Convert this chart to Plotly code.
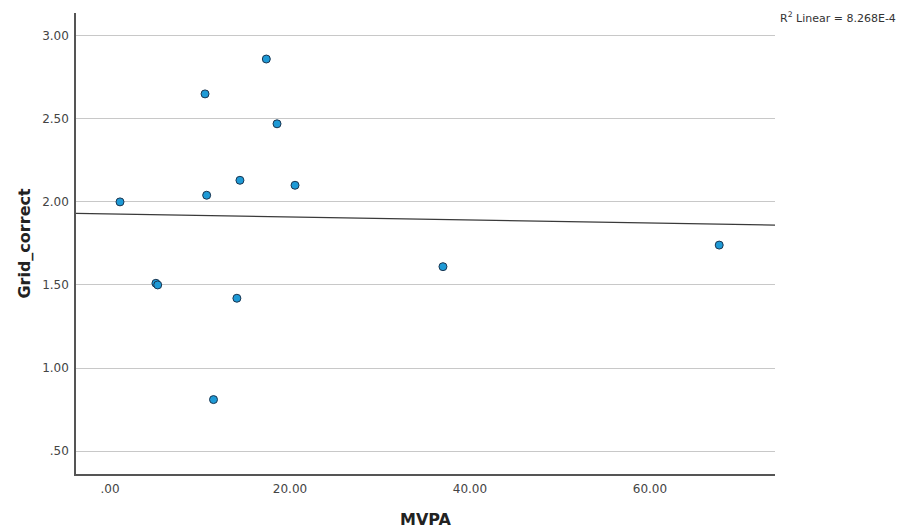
import numpy as np
import plotly.graph_objects as go

# Data
mvpa = [1.11, 5.10, 5.30, 10.56, 10.74, 11.50, 14.10, 14.44, 17.37, 18.56, 20.56, 37.00, 67.70]
grid_correct = [2.00, 1.51, 1.50, 2.65, 2.04, 0.81, 1.42, 2.13, 2.86, 2.47, 2.10, 1.61, 1.74]

x_tickvals = [0, 20, 40, 60]
x_ticktext = [".00", "20.00", "40.00", "60.00"]
y_tickvals = [0.5, 1.0, 1.5, 2.0, 2.5, 3.0]
y_ticktext = [".50", "1.00", "1.50", "2.00", "2.50", "3.00"]
r2_label = "R<sup>2</sup> Linear = 8.268E-4"

x_range = [-3.78, 73.9]
y_range = [0.362, 3.137]

# Linear fit line
slope, intercept = np.polyfit(mvpa, grid_correct, 1)
fit_x = np.array(x_range)
fit_y = intercept + slope * fit_x

fig = go.Figure()
fig.add_trace(go.Scatter(
    x=fit_x, y=fit_y, mode="lines",
    line=dict(color="#3a3a3a", width=1.2),
    hoverinfo="skip", showlegend=False,
))
fig.add_trace(go.Scatter(
    x=mvpa, y=grid_correct, mode="markers",
    marker=dict(size=8, color="#1e9ad6", line=dict(color="#1b3550", width=1)),
    showlegend=False,
))

fig.update_layout(
    width=901, height=529,
    margin=dict(l=76, r=126, t=13, b=55),
    plot_bgcolor="white", paper_bgcolor="white",
    font=dict(family="DejaVu Sans", color="#333333", size=12),
    xaxis=dict(
        range=x_range, tickvals=x_tickvals, ticktext=x_ticktext,
        showgrid=False, zeroline=False, automargin=False,
        showline=True, linecolor="#555555", linewidth=1.5,
        ticks="", ticklabelstandoff=3,
        tickfont=dict(size=12, color="#444444"),
        title=dict(text="<b>MVPA</b>", font=dict(size=16, color="#222222"), standoff=20),
    ),
    yaxis=dict(
        range=y_range, tickvals=y_tickvals, ticktext=y_ticktext,
        showgrid=True, gridcolor="#c8c8c8", gridwidth=1, zeroline=False, automargin=False,
        showline=True, linecolor="#555555", linewidth=1.5,
        ticks="", ticklabelstandoff=3,
        tickfont=dict(size=12, color="#444444"),
        title=dict(text="<b>Grid_correct</b>", font=dict(size=16, color="#222222"), standoff=8),
    ),
    annotations=[dict(
        text=r2_label, xref="paper", yref="paper", x=1.004, y=0.99,
        xanchor="left", yanchor="middle", showarrow=False,
        font=dict(size=11, color="#333333"),
    )],
)

fig.write_html("out.html")
